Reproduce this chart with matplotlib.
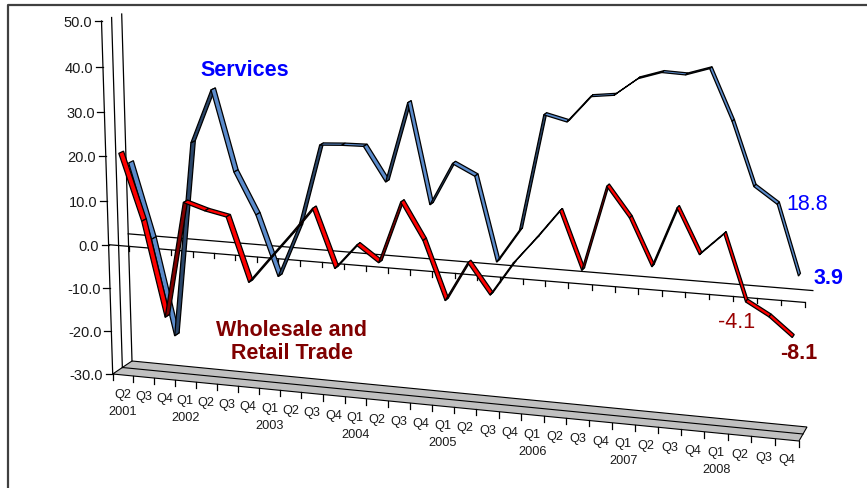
import numpy as np
import matplotlib
matplotlib.use("Agg")
import matplotlib.pyplot as plt
import matplotlib.transforms as mtransforms
from matplotlib.patches import Polygon

plt.rcParams["font.family"] = ["Liberation Sans", "DejaVu Sans"]

# quarterly growth, Q2 2001 .. Q4 2008
quarters = ["Q2", "Q3", "Q4"] + ["Q1", "Q2", "Q3", "Q4"] * 7
years = ["2001", "2002", "2003", "2004", "2005", "2006", "2007", "2008"]
year_at = [0, 3, 7, 11, 15, 19, 23, 27]
services = [17.4, 0.3, -21.7, 23.0, 35.1, 17.1, 7.8, -5.8, 6.0, 24.5, 24.8,
            24.9, 17.4, 35.1, 13.1, 22.5, 20.1, 1.6, 9.0, 34.4, 33.2, 38.9,
            39.5, 43.3, 44.9, 44.7, 46.3, 35.6, 22.2, 18.8, 3.9]
trade = [20.6, 5.6, -16.0, 10.6, 9.1, 8.1, -6.3, -0.4, 5.4, 11.5, -1.5,
         4.1, 0.6, 14.4, 6.3, -6.6, 2.2, -4.5, 2.9, 8.8, 15.1, 2.6, 21.1,
         14.7, 4.6, 17.6, 8.0, 12.8, -1.3, -4.1, -8.1]
value_ticks = [50, 40, 30, 20, 10, 0, -10, -20, -30]

# 3-D box: (category, value) corners of the front and back planes in pixels
vmin, vmax = -30, 50
ncat = len(quarters)
box_src = [(0, vmin), (0, vmax), (ncat, vmin), (ncat, vmax)]
front = np.array([(112.7, 375), (101.5, 22), (799, 442), (815, 63)])
back = np.array([(132, 362), (121.7, 15), (807, 428), (823, 55)])


def solve_homography(src, dst):
    rows, rhs = [], []
    for (x, y), (X, Y) in zip(src, dst):
        rows.append([x, y, 1, 0, 0, 0, -X * x, -X * y])
        rows.append([0, 0, 0, x, y, 1, -Y * x, -Y * y])
        rhs += [X, Y]
    h = np.linalg.solve(np.array(rows, float), np.array(rhs, float))
    return np.append(h, 1.0).reshape(3, 3)


class BoxPlane(mtransforms.Transform):
    """Perspective map of the (category, value) plane at a given depth."""
    input_dims = 2
    output_dims = 2

    def __init__(self, depth):
        super().__init__()
        dst = (1 - depth) * front + depth * back
        self.h = solve_homography(box_src, dst)

    def transform_non_affine(self, values):
        xy = np.asarray(values, dtype=float).reshape(-1, 2)
        p = np.column_stack([xy, np.ones(len(xy))]) @ self.h.T
        return p[:, :2] / p[:, 2:]


W, H = 867, 489
fig = plt.figure(figsize=(W / 100, H / 100), dpi=100)
ax = fig.add_axes([0, 0, 1, 1])
ax.set_xlim(0, W)
ax.set_ylim(H, 0)
ax.axis("off")

near, mid, far = BoxPlane(0.0), BoxPlane(0.5), BoxPlane(1.0)


def pts(plane, u, v):
    u = np.atleast_1d(np.asarray(u, float))
    v = np.broadcast_to(np.asarray(v, float), u.shape)
    return plane.transform(np.column_stack([u, v]))


# outer frame
ax.plot([8, 8, W], [H, 6, 6], color="#404040", lw=1.6, zorder=1)

# floor
fl = np.vstack([pts(near, [0, ncat], vmin), pts(far, [ncat, 0], vmin)])
ax.add_patch(Polygon(fl, closed=True, fc="#C0C0C0", ec="black", lw=0.8, zorder=1))
m = pts(mid, [0, ncat], vmin)
ax.plot(m[:, 0], m[:, 1], color="black", lw=0.8, zorder=1)

# wall edges
for plane in (near, mid, far):
    e = pts(plane, [0, 0], [vmin, vmax])
    ax.plot(e[:, 0], e[:, 1], color="black", lw=0.9, zorder=2)

# value axis ticks and labels
for v in value_ticks:
    x, y = pts(near, 0, v)[0]
    ax.plot([x - 7, x], [y, y], color="black", lw=0.9, zorder=2)
    ax.text(x - 9.5, y + 1, f"{v:.1f}", ha="right", va="center", fontsize=10.5,
            color="#1a1a1a")

# zero lines (front with category ticks, back)
for plane in (near, far):
    z = pts(plane, [0, ncat], 0)
    ax.plot(z[:, 0], z[:, 1], color="black", lw=0.9, zorder=2)
zt = pts(near, np.arange(1, ncat + 1), 0)
for x, y in zt:
    ax.plot([x, x], [y, y + 5], color="black", lw=0.9, zorder=2)

# category axis ticks and labels on the floor edge
ft = pts(near, np.arange(0, ncat + 1), vmin)
for x, y in ft:
    ax.plot([x, x], [y, y + 6], color="black", lw=0.9, zorder=2)
lab = pts(near, np.arange(ncat) + 0.5, vmin)
for k, (x, y) in enumerate(lab):
    ax.text(x, y + 19, quarters[k], ha="center", va="center", fontsize=9.2,
            color="#1a1a1a")
for yr, k in zip(years, year_at):
    x, y = lab[k]
    ax.text(x, y + 36, yr, ha="center", va="center", fontsize=9.2,
            color="#1a1a1a")


def ribbon(values, depth, light, dark, z):
    u = np.arange(len(values)) + 0.5
    v = np.asarray(values, float)
    a = pts(BoxPlane(depth - 0.12), u, v)
    b = pts(BoxPlane(depth + 0.12), u, v)
    for k in range(len(v) - 1):
        seg = a[k + 1] - a[k]
        dep = b[k] - a[k]
        cross = seg[0] * dep[1] - seg[1] * dep[0]
        face = light if cross < 0 else dark
        quad = [a[k], a[k + 1], b[k + 1], b[k]]
        ax.add_patch(Polygon(quad, closed=True, fc=face, ec="black",
                             lw=0.9, zorder=z))


ribbon(services, 0.73, "#5B8BCB", "#2B4669", 3)
ribbon(trade, 0.25, "#FF0000", "#800000", 4)

# series names
ax.text(245, 70, "Services", color="#0000FF", fontsize=15.5,
        fontweight="bold", ha="center", va="center")
ax.text(292, 342, "Wholesale and\nRetail Trade", color="#800000",
        fontsize=15.5, fontweight="bold", ha="center", va="center",
        linespacing=1.15)

# last two quarters
sp = pts(BoxPlane(0.73), [29.5, 30.5], services[-2:])
tp = pts(BoxPlane(0.25), [29.5, 30.5], trade[-2:])
ax.text(sp[0][0] + 29, sp[0][1], f"{services[-2]:.1f}", color="#0000FF",
        fontsize=15.5, ha="center", va="center")
ax.text(sp[1][0] + 29, sp[1][1] + 3, f"{services[-1]:.1f}", color="#0000FF",
        fontsize=15.5, fontweight="bold", ha="center", va="center")
ax.text(tp[0][0] - 33, tp[0][1] + 6, f"{trade[-2]:.1f}", color="#990000",
        fontsize=15.5, ha="center", va="center")
ax.text(tp[1][0] + 6, tp[1][1] + 16, f"{trade[-1]:.1f}", color="#800000",
        fontsize=15.5, fontweight="bold", ha="center", va="center")

fig.savefig("out.png", dpi=100)
